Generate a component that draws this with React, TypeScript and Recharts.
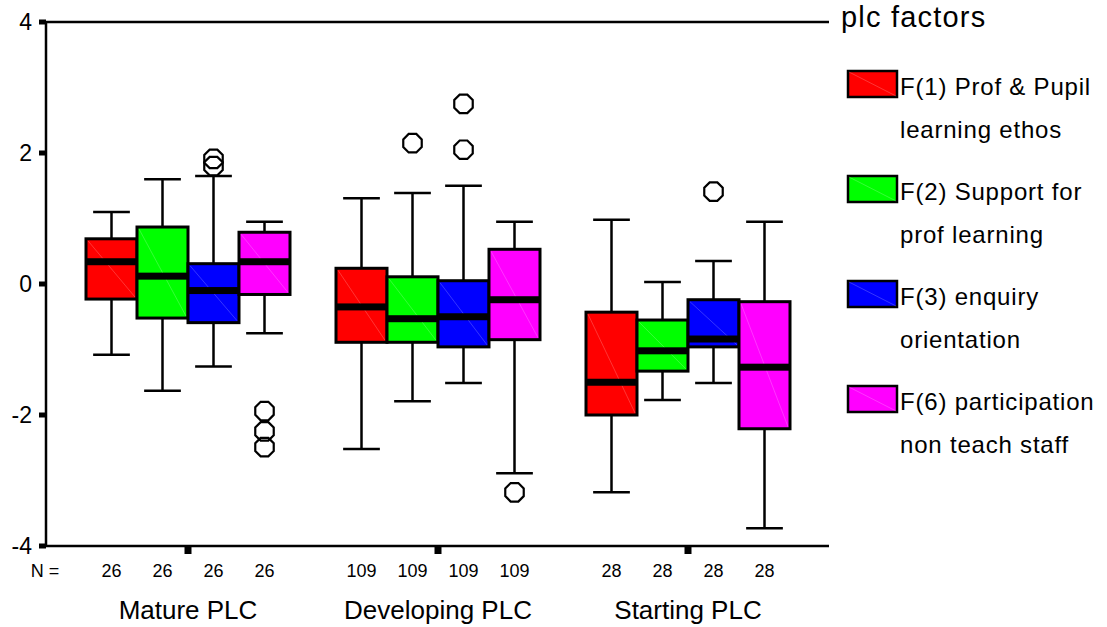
import React from 'react';
import { Bar, ComposedChart, Legend, ReferenceLine, XAxis, YAxis } from 'recharts';

const groups = ['Mature PLC', 'Developing PLC', 'Starting PLC'];
const groupN = [26, 109, 28];

const factorKeys = ['f1', 'f2', 'f3', 'f6'];
const factorLabels = [
  ['F(1) Prof & Pupil', 'learning ethos'],
  ['F(2) Support for', 'prof learning'],
  ['F(3) enquiry', 'orientation'],
  ['F(6) participation', 'non teach staff'],
];
const factorColors = ['#FF0000', '#00FF00', '#0000FF', '#FF00FF'];

// [lower whisker, q1, median, q3, upper whisker] for each group
const f1Box = [
  [-1.08, -0.23, 0.34, 0.69, 1.1],
  [-2.52, -0.89, -0.35, 0.24, 1.31],
  [-3.18, -2.0, -1.5, -0.43, 0.98],
];
const f2Box = [
  [-1.63, -0.52, 0.12, 0.87, 1.6],
  [-1.79, -0.89, -0.53, 0.11, 1.39],
  [-1.77, -1.33, -1.02, -0.55, 0.03],
];
const f3Box = [
  [-1.26, -0.59, -0.1, 0.31, 1.65],
  [-1.51, -0.96, -0.5, 0.05, 1.5],
  [-1.51, -0.96, -0.84, -0.24, 0.35],
];
const f6Box = [
  [-0.75, -0.16, 0.34, 0.79, 0.95],
  [-2.89, -0.85, -0.24, 0.53, 0.95],
  [-3.73, -2.21, -1.27, -0.27, 0.95],
];

// outliers for each group
const f1Out: number[][] = [[], [], []];
const f2Out: number[][] = [[], [2.15], []];
const f3Out: number[][] = [[1.91, 1.8], [2.75, 2.05], [1.41]];
const f6Out: number[][] = [[-1.94, -2.25, -2.49], [-3.18], []];

const yTicks = [-4, -2, 0, 2, 4];

const boxes = [f1Box, f2Box, f3Box, f6Box];
const outliers = [f1Out, f2Out, f3Out, f6Out];

const chartData = groups.map((group, g) => {
  const row: any = { group };
  factorKeys.forEach((k, f) => {
    row[k] = [boxes[f][g][0], boxes[f][g][4]];
    row[k + 'Box'] = boxes[f][g];
    row[k + 'Out'] = outliers[f][g];
  });
  return row;
});

const BOX_W = 51;

function octagon(cx: number, cy: number, r: number) {
  const pts: string[] = [];
  for (let i = 0; i < 8; i++) {
    const a = (Math.PI / 8) * (2 * i + 1);
    pts.push(`${cx + r * Math.cos(a)},${cy + r * Math.sin(a)}`);
  }
  return pts.join(' ');
}

function makeBoxShape(key: string, color: string) {
  return (props: any) => {
    const { x, y, width, height, payload } = props;
    const [lo, q1, med, q3, hi] = payload[key + 'Box'];
    const out: number[] = payload[key + 'Out'];
    const top = Math.min(y, y + height);
    const span = Math.abs(height);
    // whisker range -> pixels, from the bar the y scale gave us
    const py = (v: number) => top + ((hi - v) / (hi - lo)) * span;
    const cx = x + width / 2;
    const cap = width * 0.36;
    return (
      <g>
        <line x1={cx} x2={cx} y1={py(hi)} y2={py(q3)} stroke="#000" strokeWidth={2.5} />
        <line x1={cx} x2={cx} y1={py(q1)} y2={py(lo)} stroke="#000" strokeWidth={2.5} />
        <line x1={cx - cap} x2={cx + cap} y1={py(hi)} y2={py(hi)} stroke="#000" strokeWidth={2.5} />
        <line x1={cx - cap} x2={cx + cap} y1={py(lo)} y2={py(lo)} stroke="#000" strokeWidth={2.5} />
        <rect x={x} y={py(q3)} width={width} height={py(q1) - py(q3)} fill={color} stroke="#000" strokeWidth={3} />
        <line x1={x + 2} y1={py(q3) + 2} x2={x + width - 2} y2={py(q1) - 2} stroke="#fff" strokeOpacity={0.35} strokeWidth={0.6} />
        <rect x={x} y={py(med) - 3.5} width={width} height={7} fill="#000" />
        {out.map((v, i) => (
          <polygon key={i} points={octagon(cx, py(v), 10)} fill="none" stroke="#000" strokeWidth={2.2} />
        ))}
      </g>
    );
  };
}

function GroupTick(props: any) {
  const { x, y, payload, index } = props;
  const g = groups.indexOf(payload.value);
  return (
    <g>
      {index === 0 && (
        <text x={x - 143} y={y + 23} textAnchor="middle" style={{ fontSize: 18 }} fill="#000">N =</text>
      )}
      {factorKeys.map((k, f) => (
        <text key={k} x={x + (f - 1.5) * BOX_W} y={y + 23} textAnchor="middle" style={{ fontSize: 18 }} fill="#000">
          {groupN[g]}
        </text>
      ))}
      <text x={x} y={y + 65} textAnchor="middle" style={{ fontSize: 26 }} fill="#000">{payload.value}</text>
    </g>
  );
}

function ValueTick(props: any) {
  const { x, y, payload } = props;
  return (
    <text x={x} y={y} dy={8} textAnchor="end" style={{ fontSize: 23 }} fill="#000">
      {payload.value}
    </text>
  );
}

function LegendBox() {
  return (
    <svg width={277} height={627} style={{ display: 'block' }}>
      <text x={11} y={27} style={{ fontSize: 29 }} letterSpacing={1.2} fill="#000">plc factors</text>
      {factorLabels.map((lines, i) => (
        <g key={i}>
          <rect x={18} y={71 + 105 * i} width={49} height={26} fill={factorColors[i]} stroke="#000" strokeWidth={2.5} />
          <line x1={19} y1={72 + 105 * i} x2={66} y2={96 + 105 * i} stroke="#fff" strokeOpacity={0.35} strokeWidth={0.6} />
          <text x={70} y={95 + 105 * i} style={{ fontSize: 24 }} letterSpacing={0.8} fill="#000">{lines[0]}</text>
          <text x={70} y={138 + 105 * i} style={{ fontSize: 24 }} letterSpacing={0.8} fill="#000">{lines[1]}</text>
        </g>
      ))}
    </svg>
  );
}

export default function App() {
  return (
    <div style={{ position: 'absolute', left: 0, top: 0, width: 1107, height: 627, background: '#fff', fontFamily: '"Liberation Sans", Arial, sans-serif' }}>
      <ComposedChart
        width={1107}
        height={627}
        data={chartData}
        margin={{ top: 22, right: 278, bottom: 0, left: 0 }}
        barGap={0}
      >
        <XAxis
          dataKey="group"
          height={81}
          padding={{ left: 17, right: 16 }}
          axisLine={{ stroke: '#000', strokeWidth: 2.5 }}
          tickLine={{ stroke: '#000', strokeWidth: 7 }}
          tickSize={8}
          tickMargin={0}
          tick={GroupTick}
          interval={0}
        />
        <XAxis xAxisId="top" dataKey="group" orientation="top" height={0} tick={false} tickLine={false} axisLine={{ stroke: '#000', strokeWidth: 2.5 }} />
        <YAxis
          domain={[-4, 4]}
          ticks={yTicks}
          width={46}
          axisLine={{ stroke: '#000', strokeWidth: 2.5 }}
          tickLine={{ stroke: '#000', strokeWidth: 5 }}
          tickSize={7}
          tickMargin={7}
          tick={ValueTick}
          allowDataOverflow
        />
        <YAxis yAxisId="right" orientation="right" domain={[-4, 4]} width={0} tick={false} tickLine={false} axisLine={{ stroke: '#000', strokeWidth: 2.5 }} />
        <ReferenceLine y={4} stroke="#000" strokeWidth={2.5} />
        {factorKeys.map((k, f) => (
          <Bar
            key={k}
            dataKey={k}
            barSize={BOX_W}
            isAnimationActive={false}
            shape={makeBoxShape(k, factorColors[f])}
          />
        ))}
        <Legend
          layout="vertical"
          align="center"
          verticalAlign="middle"
          content={LegendBox}
          wrapperStyle={{ position: 'absolute', left: 830, top: 0, width: 277, height: 627 }}
        />
      </ComposedChart>
    </div>
  );
}
